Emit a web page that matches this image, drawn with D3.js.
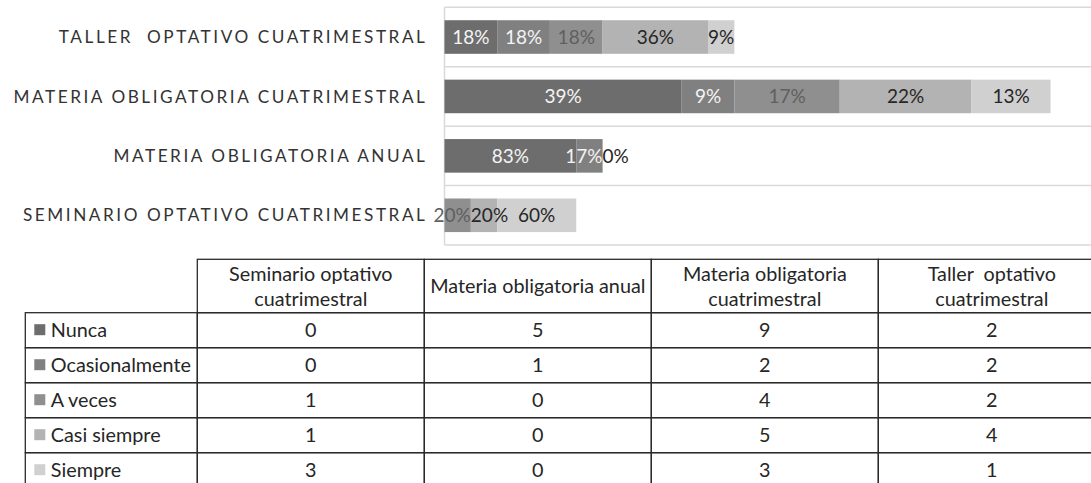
<!DOCTYPE html>
<html>
<head>
<meta charset="utf-8">
<script src="https://cdn.jsdelivr.net/npm/d3@7"></script>
<style>
  html, body { margin: 0; padding: 0; background: #fff; }
  svg { display: block; font-family: Lato, 'Open Sans', sans-serif; }
  text { white-space: pre; }
</style>
</head>
<body>
<div id="chart"></div>
<script>
// categories as they appear in the table (first = bottom bar of the chart)
const categories = [
  'Seminario optativo\ncuatrimestral',
  'Materia obligatoria anual',
  'Materia obligatoria\ncuatrimestral',
  'Taller  optativo\ncuatrimestral'
];
const series = ['Nunca', 'Ocasionalmente', 'A veces', 'Casi siempre', 'Siempre'];

// counts per category, same order as categories
const nunca = [0, 5, 9, 2];
const ocasionalmente = [0, 1, 2, 2];
const aVeces = [1, 0, 4, 2];
const casiSiempre = [1, 0, 5, 4];
const siempre = [3, 0, 3, 1];
const values = [nunca, ocasionalmente, aVeces, casiSiempre, siempre];

const fills = ['#6d6d6d', '#808080', '#8f8f8f', '#b3b3b3', '#d0d0d0'];
const labelFills = ['#f4f4f4', '#f4f4f4', '#5f5f5f', '#262626', '#262626'];

const width = 1091;
const height = 483;

const svg = d3.select('#chart').append('svg')
  .attr('width', width)
  .attr('height', height);

// ---------- bar chart ----------
const plotLeft = 444.5;
const plotTop = 7.3;
const plotBottom = 245;
const unit = 26.35;

const x = d3.scaleLinear().domain([0, 25]).range([plotLeft, plotLeft + 25 * unit]);
const y = d3.scaleBand()
  .domain(categories.slice().reverse())
  .range([plotTop, plotBottom])
  .padding(0);
const barH = y.bandwidth() * 0.565;

const rows = categories.map((c, i) => {
  const r = {cat: c};
  series.forEach((s, j) => r[s] = values[j][i]);
  r.total = d3.sum(values, v => v[i]);
  return r;
});
const stacked = d3.stack().keys(series)(rows);

// plot border + category separators
const grid = svg.append('g').attr('stroke', '#d9d9d9').attr('stroke-width', 1.5);
y.domain().map(d => y(d)).concat([plotBottom]).forEach(v => {
  grid.append('line').attr('x1', plotLeft).attr('x2', width).attr('y1', v).attr('y2', v);
});
grid.append('line').attr('x1', plotLeft).attr('x2', plotLeft).attr('y1', plotTop).attr('y2', plotBottom);

stacked.forEach((layer, j) => {
  svg.append('g').attr('fill', fills[j])
    .selectAll('rect')
    .data(layer)
    .join('rect')
    .attr('x', d => x(d[0]))
    .attr('width', d => x(d[1]) - x(d[0]))
    .attr('y', d => y(d.data.cat) + (y.bandwidth() - barH) / 2)
    .attr('height', barH);
});

// category labels
svg.append('g')
  .selectAll('text')
  .data(categories)
  .join('text')
  .attr('x', plotLeft - 17)
  .attr('y', d => y(d) + y.bandwidth() / 2)
  .attr('dy', '0.36em')
  .attr('text-anchor', 'end')
  .attr('font-size', 17.2)
  .attr('letter-spacing', 2.55)
  .attr('fill', '#333')
  .text(d => d.replace('\n', ' ').toUpperCase());

// data labels
const labelLayer = svg.append('g').attr('font-size', 19);
rows.forEach((r, i) => {
  const cy = y(r.cat) + y.bandwidth() / 2;
  const items = [];
  stacked.forEach((layer, j) => {
    const d = layer[i];
    const v = r[series[j]];
    const trailing = d3.sum(series.slice(j), s => r[s]) === 0;
    // zero segments only get one label, after the end of the bar
    if (v === 0 && !(trailing && j === series.length - 1)) return;
    const pct = Math.round(v / r.total * 100) + '%';
    const t = labelLayer.append('text')
      .attr('y', cy)
      .attr('dy', '0.36em')
      .attr('fill', labelFills[j])
      .text(pct);
    const w = t.node().getComputedTextLength();
    if (v === 0) {
      t.attr('text-anchor', 'start');
      items.push({t, cx: x(d[1]) + w / 2, w, fixed: true});
    } else {
      t.attr('text-anchor', 'middle');
      items.push({t, cx: (x(d[0]) + x(d[1])) / 2, w});
    }
  });
  // push overlapping labels apart
  for (let k = 0; k < 10; k++) {
    for (let m = 0; m < items.length - 1; m++) {
      const a = items[m], b = items[m + 1];
      const ov = (a.cx + a.w / 2) - (b.cx - b.w / 2);
      if (ov > 0) {
        if (b.fixed) a.cx -= ov;
        else { a.cx -= ov / 2; b.cx += ov / 2; }
      }
    }
  }
  items.forEach(it => it.t.attr('x', it.fixed ? it.cx - it.w / 2 : it.cx));
});

// ---------- data table ----------
const tableLeft = 25.3;
const headLeft = 197.3;
const colW = 227;
const headTop = 259.3;
const headH = 53.4;
const rowH = 35;

const cx = d3.scaleBand().domain(categories).range([headLeft, headLeft + colW * categories.length]);
const ry = d3.scaleBand().domain(series).range([headTop + headH, headTop + headH + rowH * series.length]);

const table = svg.append('g').attr('font-size', 19.8).attr('fill', '#262626');
const lines = table.append('g').attr('fill', 'none').attr('stroke', '#2b2b2b').attr('stroke-width', 1.3);

categories.forEach(c => {
  lines.append('rect').attr('x', cx(c)).attr('y', headTop).attr('width', cx.bandwidth()).attr('height', headH);
  series.forEach(s => {
    lines.append('rect').attr('x', cx(c)).attr('y', ry(s)).attr('width', cx.bandwidth()).attr('height', ry.bandwidth());
  });
  const parts = c.split('\n');
  const mid = headTop + headH / 2;
  parts.forEach((p, k) => {
    table.append('text')
      .attr('x', cx(c) + cx.bandwidth() / 2)
      .attr('y', mid + (k - (parts.length - 1) / 2) * 25)
      .attr('dy', '0.36em')
      .attr('text-anchor', 'middle')
      .text(p);
  });
});

series.forEach((s, j) => {
  lines.append('rect').attr('x', tableLeft).attr('y', ry(s)).attr('width', headLeft - tableLeft).attr('height', ry.bandwidth());
  const my = ry(s) + ry.bandwidth() / 2;
  table.append('rect')
    .attr('x', tableLeft + 9)
    .attr('y', my - 6)
    .attr('width', 11)
    .attr('height', 11)
    .attr('fill', fills[j]);
  table.append('text')
    .attr('x', tableLeft + 25.5)
    .attr('y', my)
    .attr('dy', '0.36em')
    .text(s);
  categories.forEach((c, i) => {
    table.append('text')
      .attr('x', cx(c) + cx.bandwidth() / 2)
      .attr('y', my)
      .attr('dy', '0.36em')
      .attr('text-anchor', 'middle')
      .text(values[j][i]);
  });
});
</script>
</body>
</html>
